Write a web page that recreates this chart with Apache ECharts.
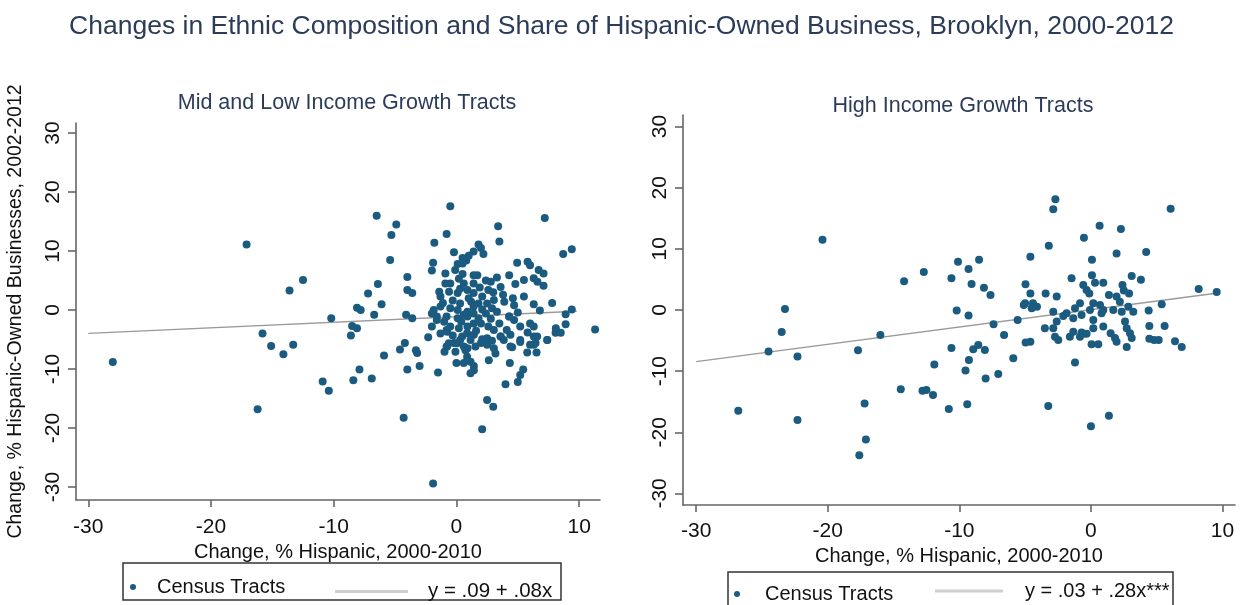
<!DOCTYPE html>
<html>
<head>
<meta charset="utf-8">
<script src="https://cdn.jsdelivr.net/npm/echarts@6/dist/echarts.min.js"></script>
<style>html,body{margin:0;padding:0;background:#fff;}#c{width:1243px;height:605px;}</style>
</head>
<body>
<div id="c"></div>
<script>
const chartTitle = 'Changes in Ethnic Composition and Share of Hispanic-Owned Business, Brooklyn, 2000-2012';
const panelTitles = ['Mid and Low Income Growth Tracts', 'High Income Growth Tracts'];
const xName = 'Change, % Hispanic, 2000-2010';
const yName = 'Change, % Hispanic-Owned Businesses, 2002-2012';
const xTicks = [-30, -20, -10, 0, 10];
const yTicks = [-30, -20, -10, 0, 10, 20, 30];
const seriesName = 'Census Tracts';
const fitNames = ['y = .09 + .08x', 'y = .03 + .28x***'];

const leftPts = [
[-28.0,-8.8],[-17.1,11.1],[-16.2,-16.8],[-15.8,-4.0],[-15.1,-6.1],[-14.1,-7.5],[-13.6,3.3],[-13.3,-5.9],[-12.5,5.1],
[-10.9,-12.1],[-10.4,-13.7],[-10.2,-1.4],[-8.6,-4.3],[-8.5,-2.7],[-8.4,-11.9],[-8.1,0.4],[-8.1,-3.1],[-7.8,0],[-7.9,-10.1],
[-7.2,2.8],[-6.9,-11.6],[-6.7,-0.8],[-6.5,16.0],[-6.4,4.4],[-6.1,1.0],[-5.9,-7.7],[-5.4,8.5],[-5.3,12.7],[-4.9,14.5],
[-4.6,-6.7],[-4.3,-18.25],[-4.2,-5.6],[-4.1,-0.8],[-4.0,5.6],[-4.0,3.4],[-4.0,-10.1],[-3.6,2.9],[-3.6,-1.4],[-3.3,-6.8],
[-3.2,-7.3],[-3.0,-9.5],[-2.3,-4.6],[-2.0,6.7],[-1.9,8.0],[-1.9,-29.4],[-1.8,11.4],[-1.5,-10.6],[-0.8,12.9],[-0.5,17.6],
[-0.2,9.8],[-0.75,-3.7],
[3.4,14.2],[3.5,11.6],[7.2,15.6],[8.7,9.5],[9.4,10.3],[11.3,-3.3],[9.4,0.1],[8.9,-0.7],[7.8,1.2],[6.8,-0.1],[8.9,-2.4],
[8.1,-3.1],[7.4,-5.1],[4.95,8.0],[5.8,8.2],[6.0,7.6],[6.7,6.8],[7.1,6.2],[6.3,5.4],[6.6,4.8],[7.1,4.1],[5.5,5.1],[4.8,4.4],
[5.5,2.3],[6.3,1.0],[4.3,5.9],[3.3,5.5],[2.8,4.8],[2.6,3.4],[3.6,3.9],[3.9,1.4],[4.7,0.8],[4.3,-1.1],
[1.8,11.1],[2.0,10.5],[2.2,9.5],[1.4,9.9],[1.0,9.2],[0.8,8.4],[0.5,7.9],[0.1,7.8],
[-0.9,6.2],[-0.1,6.8],[0.5,6.1],[1.4,5.9],[1.7,5.9],[1.4,4.5],[0.6,4.5],[-0.5,4.5],[-0.9,4.5],[-1.4,3.1],[-1.3,2.3],
[-0.6,3.1],[0.1,2.9],[0.9,3.4],[1.4,2.9],[2.1,2.3],[0.3,1.1],[1.2,1.4],[1.8,1.1],[2.5,1.1],[3.05,1.7],[2.9,0.3],[2.1,0.1],
[1.4,0.6],[0.9,-0.3],[0.1,0.0],[-0.5,0.3],[-1.3,0.6],[-1.85,0.0],[-2.0,-0.6],[-1.6,-1.1],[-0.8,-1.1],[0.1,-1.4],[0.9,-1.1],
[1.4,-0.6],[2.4,-0.6],[3.3,-0.3],[3.5,-2.3],[4.3,-1.1],[4.7,-1.7],[5.2,-2.8],[6.0,-2.3],[6.3,-2.8],[5.8,-3.8],[5.2,-5.1],
[6.3,-4.5],[6.45,-5.6],[4.1,-3.4],[3.6,-4.5],[3.05,-3.4],[2.6,-2.8],[2.0,-2.3],[1.4,-2.3],[0.9,-2.8],[0.2,-3.1],[-0.5,-2.8],
[-0.8,-3.4],[-1.3,-4.0],[-2.0,-2.8],[-1.6,-1.7],[2.5,-4.8],[2.0,-5.6],[1.15,-5.1],[0.3,-5.1],[-0.2,-5.6],[-0.8,-6.2],
[0.9,-6.5],[1.55,-6.2],[2.5,-5.9],[4.4,-6.2],[6.0,-5.9],
[-0.97,-7.06],[-0.76,-6.2],[-0.62,-5.65],[0.06,-5.65],[-0.08,-7.06],[0.6,-6.2],[0.74,-6.8],[0.0,-9.0],[0.6,-9.0],
[1.15,-8.75],[1.42,-9.5],[1.15,-10.7],[1.42,-10.2],[0.87,-7.9],[0.47,-4.5],[0.87,-3.95],[1.42,-4.2],[2.1,-4.97],
[2.5,-5.65],[3.05,-6.5],[2.64,-8.5],[3.18,-7.35],[3.6,-4.5],[3.86,-5.1],[4.4,-4.2],[4.54,-6.3],[5.2,-5.4],[5.77,-7.2],
[6.3,-5.9],[6.58,-4.5],[6.53,-7.2],[7.4,-5.1],[8.08,-3.84],[8.5,-3.84],[4.35,-9.0],[4.0,-12.6],[5.0,-12.2],[5.2,-11.0],
[5.44,-10.1],[2.5,-15.25],[3.0,-16.4],[2.1,-20.2],
[0.3,3.6],[1.0,2.0],[-0.3,1.6],[0.6,-0.8],[1.8,-1.4],[2.8,-1.5],[0.4,-2.0],[-1.0,-2.0],[1.9,3.8],[2.4,5.0],[0.2,5.3],
[3.0,3.0],[3.8,2.6],[-1.1,1.2],[1.6,-3.5],[2.9,-5.2],[-0.3,-4.3],[0.5,8.8],[4.6,2.0],[5.0,-0.4]
];

const rightPts = [
[-26.8,-16.5],[-24.5,-6.8],[-23.5,-3.6],[-23.25,0.16],[-22.3,-7.6],[-22.3,-18.0],[-20.4,11.5],[-17.7,-6.6],[-17.6,-23.75],
[-17.2,-15.3],[-17.1,-21.2],[-16.0,-4.1],[-14.45,-12.96],[-14.2,4.7],[-12.8,-13.2],[-12.5,-13.1],[-12.7,6.2],[-12.0,-13.9],
[-11.9,-8.9],[-10.8,-16.2],[-10.6,-6.2],[-10.6,5.2],
[-10.2,-0.1],[-10.1,7.9],[-9.4,-15.4],[-9.53,-9.9],[-9.3,6.7],[-9.3,-0.9],[-9.27,-8.17],[-9.07,4.25],[-8.94,-6.43],
[-8.5,8.2],[-8.56,-5.72],[-8.13,3.65],[-8.06,-6.54],[-8.0,-11.2],[-7.63,2.45],[-7.4,-2.34],[-7.04,-10.46],[-6.6,-4.1],
[-5.9,-7.9],[-5.57,-1.63],[-5.0,1.1],[-5.1,0.8],[-4.97,4.2],[-4.96,-5.3],[-4.6,-5.2],[-4.6,8.7],[-4.6,2.7],[-4.4,1.1],
[-4.1,0.55],[-4.5,0.27],[-3.5,-3.0],[-3.44,2.7],[-3.24,-15.7],[-3.2,10.5],[-2.86,16.5],[-2.7,18.1],[-2.86,-0.27],
[-2.86,-3.0],[-2.73,-4.36],[-2.6,2.2],[-2.6,-1.9],[-2.48,-4.9],[-2.1,-0.98],[-1.85,-0.54],[-1.6,-4.36],[-1.47,5.2],
[-1.34,-1.36],[-1.34,-3.54],[-1.21,0.27],[-1.21,-8.6],[-0.83,1.09],[-0.83,-4.36],[-0.71,-0.82],[-0.71,-3.7],[-0.58,4.1],
[-0.58,-3.9],[-0.53,11.8],[-0.33,3.27],[-0.33,-3.9],[-0.12,2.7],[-0.07,0.0],[0.0,-19.0],[0.05,-5.6],[0.08,8.2],[0.08,5.7],
[0.18,1.09],[0.18,-1.63],[0.18,-3.0],[0.31,4.47],[0.56,-5.6],[0.66,13.78],[0.69,0.82],[0.81,-0.54],[0.94,4.47],[0.94,0.0],
[0.94,-2.7],[1.37,2.45],[1.37,-17.3],[1.5,-3.8],[1.7,0.0],[1.95,2.2],[1.95,9.26],[1.83,-4.6],[1.95,-5.2],[2.2,1.36],
[2.28,13.24],[2.34,-0.27],[2.4,4.1],[2.5,3.2],[2.59,-1.9],[2.72,-3.0],[2.72,-6.05],[2.84,0.55],[2.9,2.7],[2.97,-3.8],
[3.1,-4.6],[3.1,5.56],[3.22,-0.27],[3.8,4.96],[4.2,9.5],[4.39,-0.1],[4.44,-2.6],[4.44,-4.7],[4.8,-4.9],[5.15,-4.9],
[5.38,0.93],[5.6,-2.6],[6.06,16.56],[6.39,-5.1],[6.9,-6.05],[8.19,3.43],[9.56,2.94]
];

const leftFit = [[-30, -3.95], [9.8, -0.2]];
const rightFit = [[-30, -8.45], [9.8, 2.83]];

const FONT = 'Liberation Sans';
const dotColor = '#1b5b80';
const axisColor = '#666';
const titleColor = '#2c3c58';

function xAxisCfg(gridIndex, min, max, labelMargin, nameGap) {
  return {
    type: 'value', gridIndex, min, max,
    axisLine: { show: true, onZero: false, lineStyle: { color: axisColor, width: 1.6 } },
    axisTick: { show: true, customValues: xTicks, length: 7, lineStyle: { color: axisColor, width: 1.6 } },
    axisLabel: { customValues: xTicks, margin: labelMargin, fontFamily: FONT, fontSize: 21, color: '#111' },
    splitLine: { show: false },
    name: xName, nameLocation: 'middle', nameGap,
    nameTextStyle: { fontFamily: FONT, fontSize: 20, color: '#111' }
  };
}
function yAxisCfg(gridIndex, min, max, withName) {
  const c = {
    type: 'value', gridIndex, min, max,
    axisLine: { show: true, onZero: false, lineStyle: { color: axisColor, width: 1.6 } },
    axisTick: { show: true, customValues: yTicks, length: 8, lineStyle: { color: axisColor, width: 1.6 } },
    axisLabel: { customValues: yTicks, rotate: 90, margin: 12, fontFamily: FONT, fontSize: 21, color: '#111' },
    splitLine: { show: false }
  };
  if (withName) {
    c.name = yName; c.nameLocation = 'middle'; c.nameGap = 50;
    c.nameTextStyle = { fontFamily: FONT, fontSize: 19.5, color: '#111' };
  }
  return c;
}

const chart = echarts.init(document.getElementById('c'));
chart.setOption({
  animation: false,
  backgroundColor: '#fff',
  title: [
    { text: chartTitle, left: 'center', top: 8, textStyle: { fontFamily: FONT, fontSize: 26.5, fontWeight: 'normal', color: titleColor } },
    { text: panelTitles[0], left: 342, textAlign: 'center', top: 87, textStyle: { fontFamily: FONT, fontSize: 21.5, fontWeight: 'normal', color: titleColor } },
    { text: panelTitles[1], left: 958, textAlign: 'center', top: 90, textStyle: { fontFamily: FONT, fontSize: 21.5, fontWeight: 'normal', color: titleColor } }
  ],
  grid: [
    { left: 76, top: 123, width: 524, height: 377 },
    { left: 683, top: 115, width: 552, height: 390 }
  ],
  xAxis: [ xAxisCfg(0, -31, 11.7, 17, 37), xAxisCfg(1, -31, 10.95, 16, 30) ],
  yAxis: [ yAxisCfg(0, -32.2, 31.7, true), yAxisCfg(1, -31.9, 31.9, false) ],
  legend: [
    { left: 130, top: 577, padding: 0, itemWidth: 6, itemHeight: 6, data: [{ name: seriesName, icon: 'circle' }],
      textStyle: { fontFamily: FONT, fontSize: 20, color: '#111', padding: [18, 0, 0, 16] } },
    { left: 335, top: 581, padding: 0, itemWidth: 73, itemHeight: 3, data: [{ name: fitNames[0], icon: 'rect', itemStyle: { color: '#cfcfcf' } }],
      textStyle: { fontFamily: FONT, fontSize: 20.5, color: '#111', padding: [14, 0, 0, 15] } },
    { left: 734, top: 584, padding: 0, itemWidth: 6, itemHeight: 6, data: [{ name: seriesName, icon: 'circle' }],
      textStyle: { fontFamily: FONT, fontSize: 20, color: '#111', padding: [16, 0, 0, 20] } },
    { left: 935, top: 581, padding: 0, itemWidth: 68, itemHeight: 3, data: [{ name: fitNames[1], icon: 'rect', itemStyle: { color: '#cfcfcf' } }],
      textStyle: { fontFamily: FONT, fontSize: 20, color: '#111', padding: [26, 0, 0, 17] } }
  ],
  graphic: [
    { type: 'rect', shape: { x: 123, y: 563, width: 438, height: 37 }, style: { fill: 'none', stroke: '#333', lineWidth: 1.5 }, silent: true },
    { type: 'rect', shape: { x: 728, y: 572, width: 445, height: 45 }, style: { fill: 'none', stroke: '#333', lineWidth: 1.5 }, silent: true }
  ],
  series: [
    { name: seriesName, type: 'scatter', xAxisIndex: 0, yAxisIndex: 0, data: leftPts, symbolSize: 8, itemStyle: { color: dotColor, opacity: 1 } },
    { name: fitNames[0], type: 'line', xAxisIndex: 0, yAxisIndex: 0, data: leftFit, symbol: 'none', z: 1,
      itemStyle: { color: '#cfcfcf' }, lineStyle: { color: '#9a9a9a', width: 1.4 } },
    { name: seriesName, type: 'scatter', xAxisIndex: 1, yAxisIndex: 1, data: rightPts, symbolSize: 8, itemStyle: { color: dotColor, opacity: 1 } },
    { name: fitNames[1], type: 'line', xAxisIndex: 1, yAxisIndex: 1, data: rightFit, symbol: 'none', z: 1,
      itemStyle: { color: '#cfcfcf' }, lineStyle: { color: '#9a9a9a', width: 1.4 } }
  ]
});
</script>
</body>
</html>
